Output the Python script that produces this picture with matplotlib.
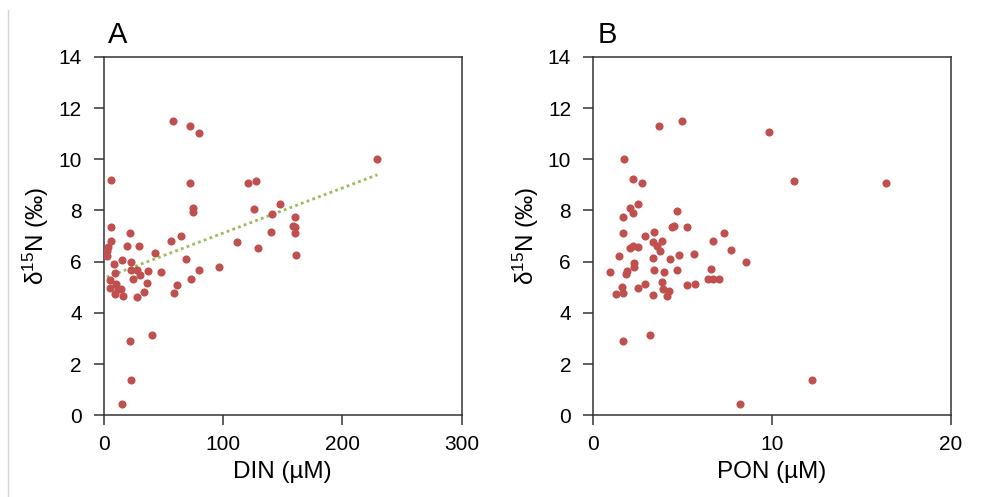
import numpy as np
import matplotlib.pyplot as plt
from matplotlib.lines import Line2D

plt.rcParams['font.family'] = ['Liberation Sans', 'DejaVu Sans']
plt.rcParams['mathtext.default'] = 'regular'

# panel A: DIN (uM) vs d15N
din = [57.5, 72.5, 79.5, 5.9, 71.9, 74.7, 74.7, 5.6, 21.9, 64.3,
       5.6, 56.4, 19.4, 29.2, 3.6, 2.2, 2.8, 43.0, 68.8, 8.7,
       15.4, 23.0, 96.9, 9.3, 22.7, 27.5, 30.0, 36.8, 47.7, 79.8,
       5.1, 24.7, 36.2, 60.9, 73.0, 5.1, 9.8, 11.5, 14.3, 9.5,
       16.3, 27.5, 33.7, 58.7, 21.9, 40.2, 23.0, 14.9, 229.4, 120.7,
       127.8, 147.4, 126.1, 141.0, 160.1, 158.4, 160.1, 160.6, 139.8, 112.0,
       129.5, 161.2]
d15n_a = [11.50, 11.29, 11.04, 9.19, 9.06, 8.11, 7.95, 7.34, 7.13, 7.00,
          6.82, 6.82, 6.63, 6.63, 6.59, 6.43, 6.22, 6.33, 6.12, 5.91,
          6.07, 5.98, 5.79, 5.57, 5.66, 5.66, 5.49, 5.64, 5.61, 5.66,
          5.29, 5.31, 5.18, 5.10, 5.34, 4.96, 5.13, 4.92, 4.92, 4.74,
          4.65, 4.62, 4.83, 4.78, 2.91, 3.12, 1.39, 0.43, 10.00, 9.09,
          9.14, 8.25, 8.04, 7.88, 7.76, 7.41, 7.34, 7.11, 7.16, 6.78,
          6.52, 6.25]

# panel B: PON (uM) vs d15N
pon = [4.97, 3.69, 1.70, 2.23, 2.70, 2.48, 2.05, 2.20, 4.66, 1.64,
       4.43, 4.53, 5.25, 1.64, 3.37, 2.91, 3.82, 3.35, 3.54, 2.20,
       2.05, 2.48, 3.73, 1.42, 4.77, 5.64, 3.35, 4.27, 2.26, 2.29,
       0.95, 1.87, 1.81, 3.39, 3.97, 4.69, 1.59, 1.28, 1.64, 2.48,
       2.89, 3.32, 3.84, 3.88, 4.13, 4.21, 5.22, 5.68, 1.66, 3.19,
       9.82, 11.20, 16.39, 7.32, 6.70, 7.71, 8.55, 6.59, 6.41, 6.70,
       7.02, 12.22, 8.23]
d15n_b = [11.50, 11.29, 10.02, 9.22, 9.09, 8.25, 8.09, 7.89, 7.97, 7.76,
          7.36, 7.39, 7.36, 7.11, 7.16, 7.00, 6.82, 6.78, 6.63, 6.63,
          6.52, 6.57, 6.42, 6.21, 6.25, 6.31, 6.13, 6.09, 5.94, 5.81,
          5.59, 5.64, 5.52, 5.69, 5.61, 5.66, 5.00, 4.74, 4.79, 4.96,
          5.13, 4.69, 5.22, 4.93, 4.65, 4.86, 5.08, 5.13, 2.91, 3.12,
          11.07, 9.14, 9.06, 7.13, 6.82, 6.44, 5.99, 5.70, 5.32, 5.31,
          5.31, 1.39, 0.43]

red = '#C0504D'
W, H = 981, 497
fig = plt.figure(figsize=(W / 100, H / 100), dpi=100)

# thin grey line at left edge
fig.add_artist(Line2D([7.5 / W, 7.5 / W], [0, 1 - 10 / H], color='#d4d4d4', lw=1))

def panel(left, x, y, xmax, xstep, xlabel, letter):
    ax = fig.add_axes([left / W, 1 - 415.3 / H, 357.5 / W, 358.5 / H])
    ax.scatter(x, y, s=34, color=red, zorder=3, linewidths=0)
    ax.set_xlim(0, xmax)
    ax.set_ylim(0, 14)
    ax.set_xticks(np.arange(0, xmax + 1, xstep))
    ax.set_yticks(np.arange(0, 15, 2))
    for s in ax.spines.values():
        s.set_color('#333333')
        s.set_linewidth(1.1)
    ax.tick_params(direction='out', length=7, width=1.1, color='#333333',
                   labelsize=15, pad=7)
    ax.tick_params(axis='y', pad=9)
    ax.set_xlabel(xlabel, fontsize=17.5, labelpad=5)
    ax.set_ylabel('δ$^{15}$N (‰)', fontsize=17.5, labelpad=5)
    ax.text(4 / 357.5, 1 + 14 / 358.5, letter, transform=ax.transAxes,
            fontsize=21, ha='left', va='baseline')
    return ax

axA = panel(104, din, d15n_a, 300, 100, 'DIN (µM)', 'A')
# linear trendline
coef = np.polyfit(din, d15n_a, 1)
xs = np.array([min(din), max(din)])
axA.plot(xs, np.polyval(coef, xs), linestyle=(0, (1, 1.2)), color='#9BBB59',
         lw=2, zorder=2)

axB = panel(593.3, pon, d15n_b, 20, 10, 'PON (µM)', 'B')

fig.savefig('out.png', dpi=100)
